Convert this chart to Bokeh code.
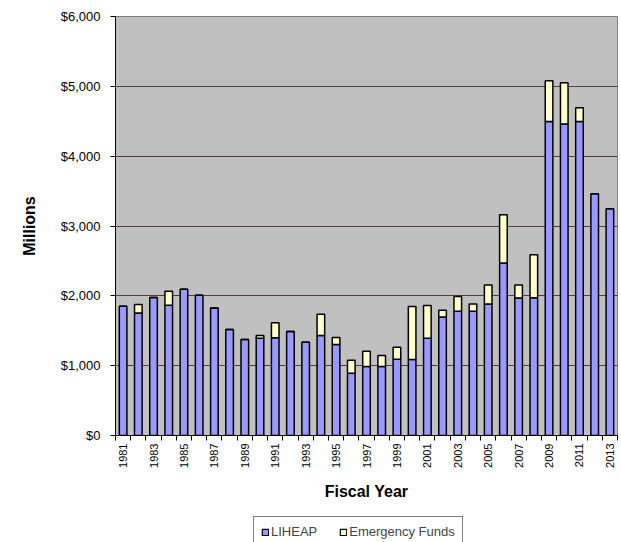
from bokeh.plotting import figure
from bokeh.layouts import column
from bokeh.models import (ColumnDataSource, FixedTicker, Range1d, NumeralTickFormatter,
                          Legend, LegendItem, CustomJSTickFormatter)
from bokeh.embed import file_html
from bokeh.resources import INLINE
import math

years = list(range(1981, 2014))
liheap = [1850, 1755, 1975, 1866, 2096, 2010, 1824, 1519, 1375, 1394, 1400, 1490, 1337, 1433,
          1304, 890, 987, 987, 1093, 1087, 1393, 1698, 1780, 1780, 1884, 2470, 1970, 1974,
          4495, 4460, 4495, 3462, 3248]
totals = [1850, 1876, 1975, 2067, 2096, 2010, 1824, 1519, 1375, 1433, 1614, 1490, 1337, 1738,
          1404, 1079, 1207, 1144, 1264, 1846, 1860, 1794, 1989, 1884, 2156, 3162, 2156, 2590,
          5080, 5052, 4693, 3462, 3248]
emergency = [t - l for t, l in zip(totals, liheap)]
series_names = ["LIHEAP", "Emergency Funds"]
series_colors = ["#9999FF", "#FFFFCC"]
y_ticks = [0, 1000, 2000, 3000, 4000, 5000, 6000]
x_label_years = list(range(1981, 2014, 2))

src = ColumnDataSource(dict(year=years, liheap=liheap, emergency=emergency))

p = figure(width=621, height=508, output_backend="svg", toolbar_location=None,
           x_range=Range1d(1980.5, 2013.5), y_range=Range1d(0, 6000),
           min_border_left=115, min_border_right=4, min_border_top=16, min_border_bottom=73)
p.background_fill_color = "#C0C0C0"
p.border_fill_color = "white"
p.outline_line_color = "#808080"
p.outline_line_width = 1

r = p.vbar_stack(["liheap", "emergency"], x="year", width=0.5, source=src,
                 fill_color=series_colors, line_color="black", line_width=1.5)

# axes
p.yaxis.ticker = FixedTicker(ticks=y_ticks)
p.yaxis.formatter = NumeralTickFormatter(format="$0,0")
p.yaxis.axis_label = "Millions"
p.yaxis.axis_label_text_font = "Liberation Sans"
p.yaxis.axis_label_text_font_style = "bold"
p.yaxis.axis_label_text_font_size = "16px"
p.yaxis.axis_label_text_color = "black"
p.yaxis.axis_label_standoff = 20
p.yaxis.major_label_text_font = "Liberation Sans"
p.yaxis.major_label_text_font_size = "13px"
p.yaxis.major_label_text_color = "#000000"
p.yaxis.major_label_standoff = 10
p.yaxis.major_tick_out = 5
p.yaxis.major_tick_in = 0
p.yaxis.minor_tick_line_color = None
p.yaxis.axis_line_color = "black"

p.xaxis.ticker = FixedTicker(ticks=x_label_years,
                             minor_ticks=[y - 0.5 for y in years] + [2013.5])
p.xaxis.formatter = CustomJSTickFormatter(code="return tick.toFixed(0);")
p.xaxis.major_label_orientation = math.pi / 2
p.xaxis.major_label_text_font = "Liberation Sans"
p.xaxis.major_label_text_font_size = "11px"
p.xaxis.major_label_text_color = "#000000"
p.xaxis.major_label_standoff = 3
p.xaxis.major_tick_out = 0
p.xaxis.major_tick_in = 0
p.xaxis.minor_tick_out = 5
p.xaxis.minor_tick_in = 0
p.xaxis.minor_tick_line_color = "black"
p.xaxis.axis_line_color = "black"
p.xaxis.axis_label = "Fiscal Year"
p.xaxis.axis_label_text_font = "Liberation Sans"
p.xaxis.axis_label_text_font_style = "bold"
p.xaxis.axis_label_text_font_size = "16px"
p.xaxis.axis_label_text_color = "black"
p.xaxis.axis_label_standoff = 12

p.xgrid.grid_line_color = None
p.ygrid.ticker = FixedTicker(ticks=[1000, 2000, 3000, 4000, 5000])
p.ygrid.grid_line_color = "#5A3A3A"
p.ygrid.grid_line_width = 1

# legend strip below the chart
lg = figure(width=621, height=34, output_backend="svg", toolbar_location=None,
            x_range=Range1d(0, 1), y_range=Range1d(0, 1), min_border=0)
lg.axis.visible = False
lg.grid.visible = False
lg.outline_line_color = None
lg.background_fill_color = "white"
lg.border_fill_color = "white"
dummy = [lg.vbar(x=[-50], top=[-50], bottom=[-51], width=0.1, fill_color=c,
                 line_color="black", line_width=1.2)
         for c in series_colors]
legend = Legend(items=[LegendItem(label=n, renderers=[d]) for n, d in zip(series_names, dummy)],
                orientation="horizontal", location=(138, -5),
                label_text_font="Liberation Sans", label_text_font_size="13px",
                glyph_width=8, glyph_height=8, label_standoff=2, spacing=22,
                padding=7, margin=0, border_line_color="black", border_line_width=1,
                background_fill_color="white", background_fill_alpha=1.0,
                label_height=14)
lg.add_layout(legend, "center")

layout = column(p, lg, spacing=0)
open("out.html", "w").write(file_html(layout, INLINE))
